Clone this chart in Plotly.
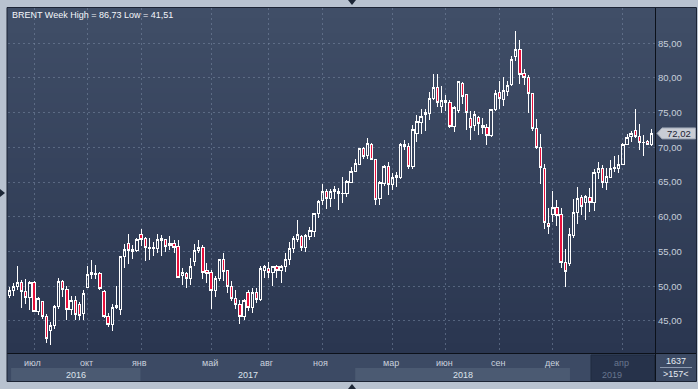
import plotly.graph_objects as go
import pandas as pd

# ---------------- data ----------------
week_start = "2016-05-23"
n_weeks = 157
dates = pd.date_range(week_start, periods=n_weeks, freq="7D")

open_ = [48.7, 49.4, 49.9, 50.5, 49.2, 48.35, 50.6, 46.3, 47.8, 45.7,
         43.6, 44.4, 47.05, 50.7, 49.6, 46.6, 47.9, 47.4, 46.1, 49.8,
         51.7, 51.85, 51.8, 49.3, 45.6, 44.5, 47.2, 46.7, 54.3, 56.1,
         55.3, 55.1, 57.4, 56.9, 55.65, 55.5, 55.5, 56.6, 56.7, 55.9,
         56.1, 55.8, 51.5, 51.8, 51.05, 53.6, 55.1, 55.6, 52.3, 52.0,
         49.4, 51.05, 53.8, 52.3, 50.0, 48.3, 47.4, 45.7, 49.1, 46.9,
         49.1, 48.1, 52.3, 52.5, 52.0, 52.9, 52.25, 52.8, 53.8, 55.5,
         56.7, 57.2, 55.6, 57.2, 57.9, 60.5, 62.3, 63.7, 62.7, 63.6,
         63.7, 63.3, 63.3, 65.0, 66.6, 67.6, 69.9, 68.8, 70.4, 68.2,
         62.7, 64.8, 67.2, 64.6, 65.6, 65.6, 70.45, 70.1, 67.2, 72.0,
         73.6, 74.8, 74.9, 77.1, 78.7, 75.9, 76.7, 76.5, 73.0, 75.3,
         79.15, 77.6, 74.2, 73.1, 74.3, 73.2, 72.9, 71.7, 75.4, 77.9,
         76.9, 78.0, 79.0, 83.1, 84.05, 80.7, 80.1, 77.7, 72.7, 70.0,
         67.0, 59.07, 60.4, 61.4, 60.3, 53.45, 53.3, 57.3, 60.65, 62.8,
         62.1, 62.8, 62.1, 66.4, 66.9, 65.0, 65.65, 67.0, 67.0, 67.6,
         70.45, 71.6, 72.5, 71.6, 70.74, 70.84, 70.36]
high = [49.9, 50.5, 52.9, 50.9, 51.1, 50.8, 50.8, 48.5, 47.9, 46.0,
        44.8, 47.3, 51.2, 50.9, 50.0, 48.6, 48.6, 47.8, 49.4, 52.9,
        53.8, 53.1, 52.0, 49.4, 46.1, 47.5, 50.1, 54.4, 56.1, 57.5,
        55.9, 56.9, 58.2, 57.1, 56.9, 56.4, 57.5, 57.4, 56.8, 57.2,
        56.7, 56.7, 52.6, 52.1, 54.05, 56.1, 56.6, 55.95, 53.3, 52.4,
        51.5, 53.8, 54.8, 52.4, 50.7, 49.5, 48.0, 48.2, 49.5, 49.8,
        49.7, 52.9, 53.1, 53.5, 52.9, 53.1, 53.0, 54.8, 56.4, 57.2,
        59.5, 57.4, 57.6, 58.5, 60.6, 62.4, 64.7, 64.0, 64.0, 64.4,
        64.1, 65.8, 65.3, 67.2, 68.3, 69.9, 70.1, 71.3, 70.6, 68.3,
        65.2, 67.4, 67.9, 66.3, 66.5, 70.6, 71.1, 70.6, 73.2, 74.7,
        75.5, 75.5, 78.05, 80.6, 80.6, 78.8, 77.6, 76.8, 75.9, 79.6,
        79.4, 77.7, 75.3, 75.3, 74.5, 74.2, 73.4, 75.6, 78.3, 79.6,
        80.1, 79.6, 83.1, 86.73, 85.5, 81.3, 80.45, 77.8, 74.1, 71.9,
        67.6, 61.3, 63.7, 62.4, 61.3, 55.4, 58.45, 62.6, 64.35, 63.2,
        63.2, 64.1, 66.9, 67.9, 67.4, 67.0, 68.2, 68.8, 68.9, 70.6,
        72.0, 72.3, 75.6, 73.4, 71.8, 71.0, 72.6]
low = [48.3, 48.6, 49.5, 46.9, 47.4, 46.6, 46.3, 45.9, 45.3, 41.8,
       41.51, 43.9, 46.8, 48.5, 45.2, 45.9, 45.2, 45.1, 45.2, 49.7,
       51.1, 51.1, 49.5, 45.4, 44.2, 43.5, 46.8, 45.9, 52.6, 53.2,
       54.0, 54.9, 55.8, 53.6, 53.8, 54.4, 54.8, 54.4, 55.0, 55.2,
       54.8, 51.2, 50.2, 49.7, 50.2, 52.9, 54.8, 51.0, 50.5, 46.7,
       48.5, 50.8, 50.7, 49.0, 47.9, 46.7, 44.5, 45.1, 46.4, 46.2,
       47.6, 47.9, 51.2, 51.2, 50.0, 51.2, 50.5, 52.0, 53.1, 54.8,
       56.4, 55.1, 55.0, 56.6, 57.1, 59.9, 61.7, 61.1, 61.4, 62.5,
       61.0, 62.0, 62.9, 65.0, 66.4, 67.5, 68.4, 68.3, 68.2, 61.7,
       61.7, 64.5, 63.2, 63.9, 64.35, 65.4, 69.7, 66.9, 66.9, 70.8,
       72.0, 72.3, 74.0, 76.9, 75.8, 74.9, 75.2, 72.8, 72.2, 75.0,
       76.3, 72.5, 71.1, 72.3, 71.8, 72.0, 70.4, 71.5, 75.2, 75.6,
       75.9, 77.4, 78.9, 82.5, 79.1, 79.0, 75.0, 72.4, 69.8, 64.7,
       58.3, 57.5, 59.3, 58.7, 52.7, 49.95, 52.9, 56.9, 58.9, 60.2,
       59.6, 60.7, 60.85, 65.5, 64.2, 63.9, 65.65, 66.4, 66.3, 67.4,
       70.4, 70.75, 71.3, 69.7, 68.8, 70.3, 70.2]
close = [49.4, 49.9, 50.5, 49.2, 48.35, 50.6, 46.4, 48.2, 45.7, 42.55,
         44.4, 47.15, 50.7, 49.6, 46.7, 47.9, 46.0, 45.8, 49.0, 51.7,
         52.0, 51.75, 49.7, 45.6, 44.5, 46.9, 46.9, 54.3, 55.3, 55.2,
         55.0, 56.8, 56.8, 55.6, 55.5, 55.65, 56.8, 56.9, 55.7, 56.1,
         55.6, 51.3, 52.0, 51.05, 52.9, 55.1, 55.6, 52.0, 51.9, 49.4,
         51.05, 53.8, 52.1, 50.0, 48.3, 47.4, 45.6, 48.0, 46.9, 49.1,
         48.1, 52.6, 52.8, 52.0, 52.8, 52.25, 52.8, 53.9, 55.5, 56.9,
         57.5, 55.6, 57.3, 58.0, 60.5, 62.2, 63.7, 62.7, 63.7, 63.9,
         63.4, 63.35, 65.1, 66.6, 67.7, 69.9, 68.7, 70.5, 68.3, 62.5,
         64.9, 67.2, 64.6, 65.6, 66.0, 70.4, 70.1, 67.2, 72.6, 73.7,
         74.5, 75.0, 77.1, 78.7, 76.4, 76.75, 76.4, 73.0, 75.7, 79.5,
         77.4, 75.0, 72.9, 74.8, 73.4, 72.9, 71.7, 75.5, 77.8, 77.1,
         78.2, 78.9, 82.7, 84.05, 80.5, 80.0, 77.7, 72.7, 70.0, 67.1,
         59.2, 58.6, 61.4, 60.2, 53.4, 52.1, 57.4, 60.65, 62.6, 61.5,
         62.9, 62.1, 66.4, 66.9, 65.0, 65.8, 67.0, 67.05, 67.6, 70.45,
         71.5, 71.95, 71.6, 70.7, 70.76, 70.45, 72.02]

price_ticks = [45, 50, 55, 60, 65, 70, 75, 80, 85]
month_ticks = ["2016-07-04", "2016-10-03", "2017-01-02", "2017-05-01",
               "2017-08-07", "2017-11-06", "2018-03-05", "2018-06-04",
               "2018-09-03", "2018-12-03", "2019-04-01"]
month_labels = ["июл", "окт", "янв", "май", "авг", "ноя",
                "мар", "июн", "сен", "дек", "апр"]
year_labels = ["2016", "2017", "2018", "2019"]
year_starts = ["2017-01-01", "2018-01-01", "2019-01-01"]
title_text = "BRENT Week High = 86,73 Low = 41,51"
footer_top = "1637"
footer_bottom = ">157<"

# ---------------- layout geometry ----------------
W, H = 698, 389
L, R, T, B = 8, 43, 8, 36
PW, PH = W - L - R, H - T - B
y_min, y_max = 40.39, 90.08
wk = pd.Timedelta(days=7)
x0 = dates[0] - 0.316 * wk
x1 = dates[0] + 156.8 * wk
span_s = (x1 - x0).total_seconds()
OUTER = "#b8c2d0"


def X(px):
    return (px - L) / PW


def Y(py):
    return (H - B - py) / PH


def date_px(d):
    d = pd.Timestamp(d)
    return L + PW * ((d - x0).total_seconds() / span_s)


FONT = "Liberation Sans, Arial, sans-serif"
shapes = []

# background gradient (plot + right axis panel)
top_rgb = (64, 78, 103)
bot_rgb = (42, 54, 80)
nb = 69
for k in range(nb):
    t = k / (nb - 1)
    c = tuple(round(top_rgb[j] + (bot_rgb[j] - top_rgb[j]) * t) for j in range(3))
    py0 = T + k * PH / nb
    py1 = T + (k + 1) * PH / nb + 0.6
    shapes.append(dict(type="rect", xref="paper", yref="paper", layer="below",
                       x0=X(7), x1=X(696.5), y0=Y(py0), y1=Y(py1),
                       fillcolor="rgb(%d,%d,%d)" % c, line=dict(width=0)))

# bottom panel
shapes.append(dict(type="rect", xref="paper", yref="paper", layer="below",
                   x0=X(7), x1=X(696.5), y0=Y(353), y1=Y(381.5),
                   fillcolor="#3c4a64", line=dict(width=0)))
# lighter year bands (2016, 2018)
yb = [dates[0] + pd.Timedelta(days=3)] + [pd.Timestamp(s) for s in year_starts] + [x1]
for k in (0, 2):
    shapes.append(dict(type="rect", xref="paper", yref="paper", layer="below",
                       x0=X(date_px(yb[k])), x1=X(date_px(yb[k + 1])),
                       y0=Y(368), y1=Y(381),
                       fillcolor="#4b5a72", line=dict(width=0)))
# dark 2019 box
shapes.append(dict(type="rect", xref="paper", yref="paper", layer="below",
                   x0=X(591), x1=X(654.5), y0=Y(355), y1=Y(381),
                   fillcolor="#26324a", line=dict(color="#1f2a3e", width=1)))
# separators
shapes.append(dict(type="line", xref="paper", yref="paper", layer="above",
                   x0=X(7), x1=X(696.5), y0=Y(353.5), y1=Y(353.5),
                   line=dict(color="#0c111a", width=1)))
shapes.append(dict(type="line", xref="paper", yref="paper", layer="above",
                   x0=X(655.5), x1=X(655.5), y0=Y(7), y1=Y(381.5),
                   line=dict(color="#0c111a", width=1)))
shapes.append(dict(type="line", xref="paper", yref="paper", layer="above",
                   x0=X(660), x1=X(692), y0=Y(367.5), y1=Y(367.5),
                   line=dict(color="#8d9ab0", width=1)))
# outer frame
shapes.append(dict(type="rect", xref="paper", yref="paper", layer="above",
                   x0=X(7), x1=X(696.5), y0=Y(7.5), y1=Y(381.5),
                   line=dict(color="#1b2334", width=1)))
# little triangles on the frame
tri_col = "#1c2636"
shapes.append(dict(type="path", xref="paper", yref="paper", layer="above",
                   path=f"M {X(348)},{Y(0)} L {X(356)},{Y(0)} L {X(352)},{Y(5)} Z",
                   fillcolor=tri_col, line=dict(width=0)))
shapes.append(dict(type="path", xref="paper", yref="paper", layer="above",
                   path=f"M {X(348)},{Y(389)} L {X(356)},{Y(389)} L {X(352)},{Y(384)} Z",
                   fillcolor=tri_col, line=dict(width=0)))
shapes.append(dict(type="path", xref="paper", yref="paper", layer="above",
                   path=f"M {X(0)},{Y(189)} L {X(0)},{Y(197)} L {X(5)},{Y(193)} Z",
                   fillcolor=tri_col, line=dict(width=0)))

# last price tag
last = close[-1]
yv = (last - y_min) / (y_max - y_min)
dh = 5.5 / PH
shapes.append(dict(type="path", xref="paper", yref="paper", layer="above",
                   path=(f"M {X(657)},{yv} L {X(662)},{yv + dh} L {X(695.5)},{yv + dh} "
                         f"L {X(695.5)},{yv - dh} L {X(662)},{yv - dh} Z"),
                   fillcolor="#c9cdd5", line=dict(color="#9aa3b2", width=1)))

annotations = []
annotations.append(dict(xref="paper", yref="paper", x=X(679), y=yv,
                        text=f"{last:.2f}".replace(".", ","), showarrow=False,
                        xanchor="center", yanchor="middle",
                        font=dict(family=FONT, size=9.5, color="#1a2232")))
annotations.append(dict(xref="paper", yref="paper", x=X(10), y=Y(15.5),
                        text=title_text, showarrow=False,
                        xanchor="left", yanchor="middle",
                        font=dict(family=FONT, size=9, color="#f4f6fa")))
for d, lab in zip(month_ticks, month_labels):
    dim = pd.Timestamp(d) >= pd.Timestamp(year_starts[-1])
    annotations.append(dict(xref="paper", yref="paper", x=X(date_px(d) - 1.3), y=Y(362.5),
                            text=lab, showarrow=False, xanchor="center", yanchor="middle",
                            font=dict(family=FONT, size=9,
                                      color="#68768e" if dim else "#c9d1dd")))
for k, lab in enumerate(year_labels):
    cx = (max(date_px(yb[k]), L) + min(date_px(yb[k + 1]), L + PW)) / 2
    annotations.append(dict(xref="paper", yref="paper", x=X(cx), y=Y(374.5),
                            text=lab, showarrow=False, xanchor="center", yanchor="middle",
                            font=dict(family=FONT, size=9,
                                      color="#68768e" if k == 3 else "#dde3ec")))
annotations.append(dict(xref="paper", yref="paper", x=X(676), y=Y(361),
                        text=footer_top, showarrow=False, xanchor="center", yanchor="middle",
                        font=dict(family=FONT, size=9, color="#e6ebf2")))
annotations.append(dict(xref="paper", yref="paper", x=X(676), y=Y(374),
                        text=footer_bottom, showarrow=False, xanchor="center", yanchor="middle",
                        font=dict(family=FONT, size=9, color="#e6ebf2")))

fig = go.Figure(go.Candlestick(
    x=dates, open=open_, high=high, low=low, close=close,
    increasing=dict(line=dict(color="#ffffff", width=1), fillcolor="rgba(0,0,0,0)"),
    decreasing=dict(line=dict(color="#ffffff", width=1), fillcolor="#e8103c"),
    whiskerwidth=0, hoverinfo="skip", showlegend=False))

grid = dict(gridcolor="rgba(120,136,162,0.55)", griddash="2px,3px", gridwidth=1)
fig.update_layout(
    width=W, height=H,
    margin=dict(l=L, r=R, t=T, b=B, pad=0),
    paper_bgcolor=OUTER, plot_bgcolor="rgba(0,0,0,0)",
    separators=", ",
    showlegend=False,
    boxgap=0.2,
    shapes=shapes, annotations=annotations,
    xaxis=dict(type="date", range=[x0.isoformat(), x1.isoformat()], tickvals=month_ticks,
               showticklabels=False, ticks="", zeroline=False, showline=False,
               rangeslider=dict(visible=False), fixedrange=True, **grid),
    yaxis=dict(side="right", range=[y_min, y_max], tickvals=price_ticks,
               tickformat=".2f", ticks="", ticklabelstandoff=2,
               tickfont=dict(family=FONT, size=9.5, color="#c7cfdb"),
               zeroline=False, showline=False, fixedrange=True, **grid),
)
fig.write_html(
    "out.html",
    config={"displayModeBar": False, "staticPlot": True},
    post_script=("document.body.style.margin='0';"
                 "document.body.style.padding='0';"
                 "document.body.style.overflow='hidden';"
                 f"document.body.style.background='{OUTER}';"
                 "document.querySelectorAll('.trace.boxes path').forEach("
                 "function(p){p.style.shapeRendering='crispEdges';});"),
)
